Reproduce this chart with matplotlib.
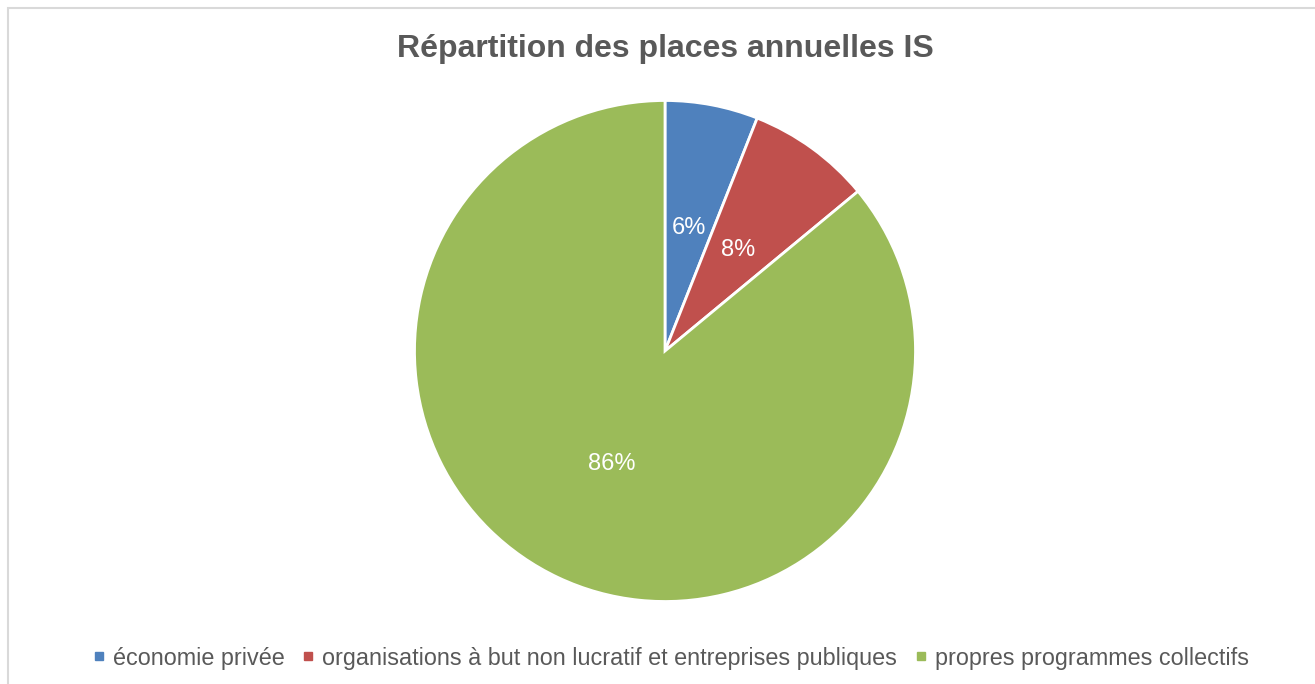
import numpy as np
import matplotlib.pyplot as plt
from matplotlib.lines import Line2D
from matplotlib.patches import Rectangle

plt.rcParams['font.family'] = ['Liberation Sans', 'DejaVu Sans']

categories = ['économie privée',
              'organisations à but non lucratif et entreprises publiques',
              'propres programmes collectifs']
values = [6, 8, 86]
colors = ['#4F81BD', '#C0504D', '#9BBB59']
title = 'Répartition des places annuelles IS'

W, H = 1315, 684
fig = plt.figure(figsize=(W / 100, H / 100), dpi=100)

# chart area border (extends past right and bottom edges)
fig.patches.append(Rectangle((7.5 / W, -0.1), 1.2, 1.1 - 8.5 / H,
                             transform=fig.transFigure, fill=False,
                             edgecolor='#d9d9d9', linewidth=1.5))

r = 250.5
cx, cy = 665, 351
ax = fig.add_axes([(cx - r) / W, (H - cy - r) / H, 2 * r / W, 2 * r / H])
wedges, texts, autotexts = ax.pie(values, colors=colors, startangle=90, counterclock=False,
                                  autopct='%1.0f%%', pctdistance=0.5, radius=1,
                                  wedgeprops=dict(edgecolor='white', linewidth=2),
                                  textprops=dict(color='white', fontsize=17))
ax.set_xlim(-1, 1)
ax.set_ylim(-1, 1)
ax.set_aspect('equal')
ax.axis('off')

fig.text(cx / W, 1 - 49 / H, title, ha='center', va='center',
         fontsize=23, fontweight='bold', color='#595959')

handles = [Line2D([], [], linestyle='none', marker='s', markersize=6,
                  markerfacecolor=c, markeredgecolor=c) for c in colors]
fig.legend(handles, categories, loc='center', bbox_to_anchor=(671 / W, 1 - 658 / H),
           ncol=3, frameon=False, fontsize=16.8, labelcolor='#595959',
           handlelength=0.5, handletextpad=0.35, columnspacing=0.75)

fig.savefig('out.png', dpi=100)
